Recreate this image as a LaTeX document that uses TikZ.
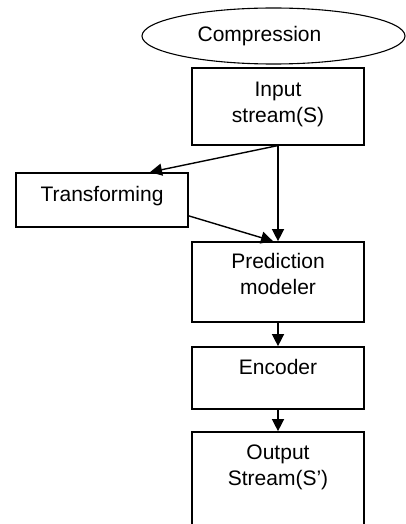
\documentclass[tikz,border=0pt]{standalone}
\usepackage{fontspec}
\setmainfont{Liberation Sans}
\usepackage{tikz}
\usetikzlibrary{arrows.meta,positioning,shapes.geometric}

\begin{document}
\begin{tikzpicture}[x=1pt,y=1pt,->,>={Triangle[length=12pt,width=12pt]},
		line width=1.4pt,node distance=20pt,
		every node/.style={font=\fontsize{21}{26}\selectfont},
		stage/.style={rectangle,draw,line width=1.4pt,minimum width=172pt,inner ysep=0pt,align=center},
		oval/.style={ellipse,draw,line width=1.1pt,minimum width=263pt,minimum height=56pt,inner sep=0pt}]

		\useasboundingbox (0,0) rectangle (406,-524);

		\node[oval] (comp) at (273.5,-36) {Compression\kern28pt};
		\node[stage,text height=55pt,text depth=22pt] (input) [below=2.6pt of comp,xshift=4.5pt] {Input\\stream(S)};
		\node[stage,text height=29pt,text depth=25pt] (trans) [below left=26.6pt and 2.6pt of input] {Transforming};
		\node[stage,text height=53pt,text depth=27pt] (pred) [below=95.6pt of input] {Prediction\\modeler};
		\node[stage,text height=28pt,text depth=34pt] (enc) [below=23.6pt of pred] {Encoder};
		\node[stage,text height=54pt,text depth=80pt] (out) [below=21.6pt of enc] {Output\\Stream(S')};

		\path[every node/.style={font=\small}]
		(input.south) edge ([xshift=48pt]trans.north)
		(input.south) edge (pred.north)
		([yshift=-16pt]trans.east) edge ([xshift=-5pt]pred.north)
		(pred.south) edge (enc.north)
		(enc.south) edge (out.north);
	\end{tikzpicture}
\end{document}
